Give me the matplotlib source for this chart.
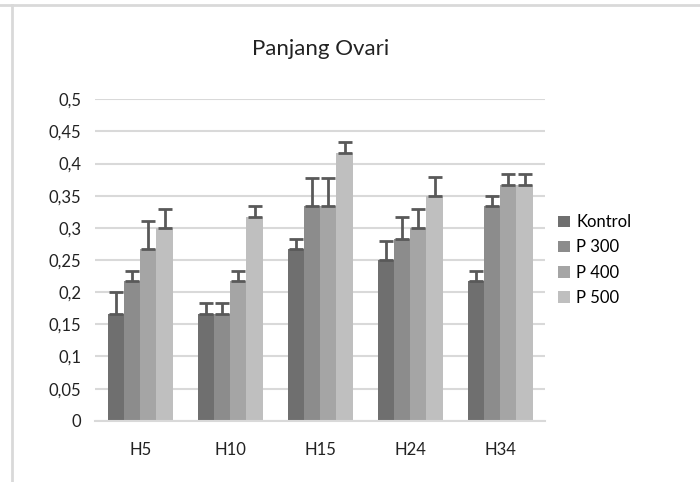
import numpy as np
import matplotlib.pyplot as plt
from matplotlib.lines import Line2D
from matplotlib.ticker import FuncFormatter

plt.rcParams['font.family'] = ['Lato', 'DejaVu Sans']

kategori = ["H5", "H10", "H15", "H24", "H34"]
seri = ["Kontrol", "P 300", "P 400", "P 500"]
nilai = {
    "Kontrol": [0.1667, 0.1667, 0.2667, 0.25, 0.2167],
    "P 300":   [0.2167, 0.1667, 0.3333, 0.2833, 0.3333],
    "P 400":   [0.2667, 0.2167, 0.3333, 0.30, 0.3667],
    "P 500":   [0.30, 0.3167, 0.4167, 0.35, 0.3667],
}
galat = {
    "Kontrol": [0.0333, 0.0167, 0.0167, 0.0289, 0.0167],
    "P 300":   [0.0167, 0.0167, 0.0441, 0.0333, 0.0167],
    "P 400":   [0.0441, 0.0167, 0.0441, 0.0289, 0.0167],
    "P 500":   [0.0289, 0.0167, 0.0167, 0.0289, 0.0167],
}
warna = ["#6f6f6f", "#8c8c8c", "#a5a5a5", "#bfbfbf"]

fig = plt.figure(figsize=(7, 4.82), dpi=100)
ax = fig.add_axes([0.136, 0.127, 0.643, 0.667])

x = np.arange(len(kategori))
lebar = 0.18
for i, s in enumerate(seri):
    pos = x + (i - 1.5) * lebar
    ax.bar(pos, nilai[s], lebar, color=warna[i], label=s, zorder=2,
           yerr=[np.zeros(len(kategori)), galat[s]], capsize=5,
           error_kw=dict(ecolor="#595959", elinewidth=2, capthick=2, zorder=3))

ax.set_xlim(-0.5, len(kategori) - 0.5)
ax.set_ylim(0, 0.5)
ax.set_yticks(np.arange(0, 0.501, 0.05))
ax.yaxis.set_major_formatter(FuncFormatter(lambda v, p: ("%g" % round(v, 2)).replace(".", ",")))
ax.set_xticks(x)
ax.set_xticklabels(kategori)
ax.grid(axis="y", color="#d9d9d9", linewidth=1.5, zorder=0)
for sp in ["top", "right", "left"]:
    ax.spines[sp].set_visible(False)
ax.spines["bottom"].set_color("#d9d9d9")
ax.spines["bottom"].set_linewidth(1.5)
ax.tick_params(axis="both", length=0, labelsize=12, colors="#222222", pad=10)
ax.tick_params(axis="x", pad=15)

ax.set_title("Panjang Ovari", fontsize=16, color="#222222", pad=32)

ax.legend(loc="center left", bbox_to_anchor=(0.995, 0.5), frameon=False,
          fontsize=12, handlelength=0.7, handleheight=0.7, handletextpad=0.4,
          labelspacing=0.55)

fig.add_artist(Line2D([0, 1], [0.99, 0.99], color="#d9d9d9", linewidth=2))
fig.add_artist(Line2D([0.017, 0.017], [0, 0.99], color="#d9d9d9", linewidth=2))

fig.savefig("out.png", dpi=100, facecolor="white")
